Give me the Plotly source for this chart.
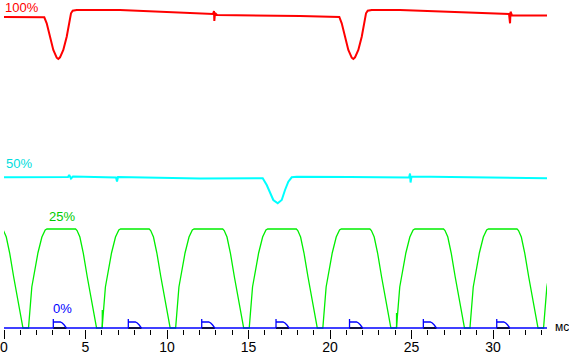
import plotly.graph_objects as go

# Time in ms, brightness in arbitrary units (0 = dark)
red_t = [0, 2.472, 2.620, 2.822, 3.025, 3.233, 3.331, 3.436, 3.638, 3.847, 3.988, 4.110, 4.215, 4.460,
         7.117, 9.141, 11.227, 12.822, 12.883, 12.902, 12.945, 13.067, 18.16,
         20.570, 20.718, 20.920, 21.123, 21.331, 21.429, 21.534, 21.736, 21.945, 22.086, 22.208, 22.313, 22.558,
         24.294, 26.319, 28.405, 30.429, 30.98, 31.043, 31.074, 31.166, 33.313]
red_v = [311, 310.7, 304.7, 291.3, 278, 270.3, 269, 270.7, 278, 291.3, 304.7, 314.7, 317.3, 318,
         318, 316.5, 314.5, 314, 317, 307, 315, 313, 312,
         311, 304.7, 291.3, 278, 270.3, 269, 270.7, 278, 291.3, 304.7, 314.7, 317.3, 318,
         318, 317, 315.5, 314.3, 314, 304.7, 316.3, 312.5, 312.5]

cyan_t = [0, 3.926, 4.0, 4.11, 4.23, 6.871, 6.933, 6.994, 12.025, 15.871, 16.117, 16.319, 16.521, 16.791,
          17.037, 17.239, 17.442, 17.650, 17.957, 21.227, 24.847, 24.908, 24.939, 25.0, 29.202, 33.313]
cyan_v = [150.7, 151, 153, 149.5, 151.5, 150.5, 146.5, 151, 149.5, 149.7, 143, 134.7, 128, 124.7,
          128, 138, 146.3, 150.7, 151.3, 151, 150.5, 154.5, 145.5, 151.5, 150.5, 149.7]

# one period of the 25% waveform (offsets from the start of each rise)
green_cycle_t = [0, 0.203, 0.577, 0.822, 1.025, 1.135, 2.888, 2.98, 3.152, 3.360, 3.606, 3.913, 4.176]
green_cycle_v = [0, 41, 75, 91, 98, 99, 99, 97.5, 91, 75, 51, 25, 0]
green_rise_starts = [-3.012, 1.503, 6.018, 10.528, 15.043, 19.558, 24.074, 28.583, 33.098]
green_spike_t = [6.03, 24.08]
green_spike_v = [18, 15]

zero_t = [0, 33.31]
zero_v = [0, 0]

marker_times = [3.025, 7.626, 12.129, 16.687, 21.196, 25.724, 30.227]
marker_shape_t = [0, 0, 0, 0.43, 0.55, 0.67, 0.74, 0.80]
marker_shape_v = [0, 9, 6, 6, 5, 3, 1.5, 0]
marker_base_len = 0.80

x_ticks = [0, 5, 10, 15, 20, 25, 30]

# build series
gx, gy = [], []
for s in green_rise_starts:
    for t, v in zip(green_cycle_t, green_cycle_v):
        gx.append(s + t)
        gy.append(v)
sx, sy = [], []
for t, v in zip(green_spike_t, green_spike_v):
    sx += [t, t, None]
    sy += [0, v, None]
mx, my, bx, by = [], [], [], []
for m in marker_times:
    for t, v in zip(marker_shape_t, marker_shape_v):
        mx.append(m + t)
        my.append(v)
    mx.append(None); my.append(None)
    bx += [m, m + marker_base_len, None]
    by += [0, 0, None]

fig = go.Figure()
fig.add_trace(go.Scatter(x=red_t, y=red_v, mode='lines', line=dict(color='#ff0000', width=2)))
fig.add_trace(go.Scatter(x=cyan_t, y=cyan_v, mode='lines', line=dict(color='#00ffff', width=2)))
fig.add_trace(go.Scatter(x=gx, y=gy, mode='lines', line=dict(color='#00ee00', width=1.3)))
fig.add_trace(go.Scatter(x=sx, y=sy, mode='lines', line=dict(color='#00ee00', width=1.3)))
fig.add_trace(go.Scatter(x=zero_t, y=zero_v, mode='lines', line=dict(color='#0000ff', width=1.5)))
fig.add_trace(go.Scatter(x=bx, y=by, mode='lines', line=dict(color='#000000', width=1.5)))
fig.add_trace(go.Scatter(x=mx, y=my, mode='lines', line=dict(color='#0000ff', width=1.3)))

lab_font = 'Liberation Sans, Arial, sans-serif'
annos = [
    dict(text='100%', x=0.03, y=321, color='#ff0000'),
    dict(text='50%', x=0.06, y=165, color='#00dddd'),
    dict(text='25%', x=2.70, y=111.5, color='#00cc00'),
    dict(text='0%', x=2.93, y=19.5, color='#0000ff'),
]
for a in annos:
    fig.add_annotation(text=a['text'], x=a['x'], y=a['y'], xref='x', yref='y', showarrow=False,
                       xanchor='left', yanchor='middle', borderpad=0,
                       font=dict(family=lab_font, size=13, color=a['color']))
fig.add_annotation(text='мс', x=1.012, y=1, xref='paper', yref='y', showarrow=False,
                   xanchor='left', yanchor='middle', borderpad=0,
                   font=dict(family=lab_font, size=12, color='black'))

fig.update_layout(
    width=569, height=354,
    margin=dict(l=4, r=22, t=0, b=25),
    paper_bgcolor='white', plot_bgcolor='white',
    showlegend=False,
    xaxis=dict(range=[0, 33.31], tickmode='array', tickvals=x_ticks,
               ticktext=[str(v) for v in x_ticks],
               ticks='outside', ticklen=9, tickwidth=1, tickcolor='black',
               ticklabelstandoff=-4,
               showline=False, showgrid=False, zeroline=False, automargin=False,
               tickfont=dict(family=lab_font, size=14, color='black'),
               minor=dict(tick0=0, dtick=1, ticks='outside', ticklen=5, tickwidth=1,
                          tickcolor='black', showgrid=False),
               fixedrange=True),
    yaxis=dict(range=[-1, 328], visible=False, fixedrange=True, automargin=False),
)

fig.write_html("out.html", config={'displayModeBar': False})
